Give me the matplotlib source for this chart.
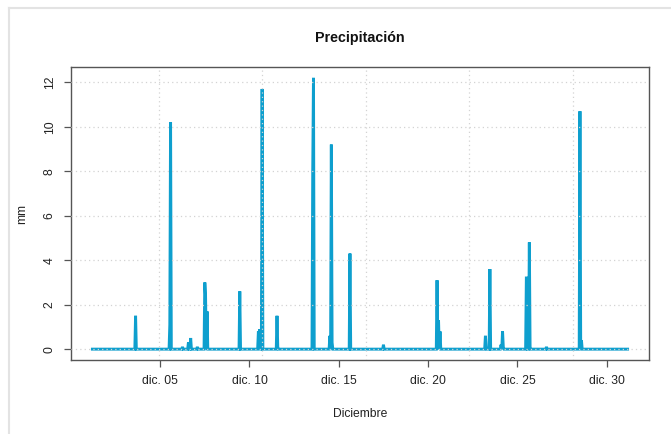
import numpy as np
import pandas as pd
import matplotlib
matplotlib.use("Agg")
import matplotlib.pyplot as plt
import matplotlib.dates as mdates
from matplotlib.lines import Line2D

plt.rcParams['font.family'] = ['Liberation Sans', 'DejaVu Sans']

# ---- data ----
start = "2023-12-01 05:00"
end = "2023-12-31 04:00"
event_times = [
    "2023-12-03 15:00",
    "2023-12-05 13:00", "2023-12-05 14:00",
    "2023-12-06 06:00", "2023-12-06 14:00", "2023-12-06 17:00",
    "2023-12-07 02:00", "2023-12-07 12:00", "2023-12-07 13:00", "2023-12-07 15:00",
    "2023-12-09 11:00",
    "2023-12-10 12:00", "2023-12-10 14:00", "2023-12-10 17:00",
    "2023-12-11 13:00", "2023-12-11 14:00",
    "2023-12-13 13:00", "2023-12-13 14:00",
    "2023-12-14 12:00", "2023-12-14 14:00", "2023-12-14 15:00",
    "2023-12-15 15:00",
    "2023-12-17 12:00",
    "2023-12-20 12:00", "2023-12-20 14:00", "2023-12-20 16:00",
    "2023-12-23 05:00", "2023-12-23 06:00", "2023-12-23 11:00",
    "2023-12-24 02:00", "2023-12-24 04:00", "2023-12-24 05:00",
    "2023-12-25 12:00", "2023-12-25 13:00", "2023-12-25 16:00", "2023-12-25 17:00",
    "2023-12-26 15:00",
    "2023-12-28 12:00", "2023-12-28 14:00",
]
event_mm = [
    1.5,
    1.1, 10.2,
    0.1, 0.3, 0.5,
    0.1, 3.0, 2.4, 1.7,
    2.6,
    0.8, 0.9, 11.7,
    1.5, 0.1,
    8.0, 12.2,
    0.6, 9.2, 0.3,
    4.3,
    0.2,
    3.1, 1.3, 0.8,
    0.6, 0.1, 3.6,
    0.2, 0.8, 0.1,
    3.2, 3.2, 4.8, 0.1,
    0.1,
    10.7, 0.4,
]
tick_dates = ["2023-12-05", "2023-12-10", "2023-12-15", "2023-12-20", "2023-12-25", "2023-12-30"]
tick_labels = ["dic. 05", "dic. 10", "dic. 15", "dic. 20", "dic. 25", "dic. 30"]
y_ticks = [0, 2, 4, 6, 8, 10, 12]

series = pd.Series(0.0, index=pd.date_range(start, end, freq="h"))
series.loc[pd.to_datetime(event_times)] = event_mm

# ---- figure ----
W, H = 671, 434
fig = plt.figure(figsize=(W / 100, H / 100), dpi=100)
ax = fig.add_axes([71 / W, (H - 360) / H, 578 / W, 293 / H])

color = "#0E9FCE"
ax.plot(series.index, series.values, color=color, lw=2.1, solid_joinstyle="miter", zorder=2)

x0 = mdates.date2num(series.index[0])
x1 = mdates.date2num(series.index[-1])
xr = x1 - x0
ax.set_xlim(x0 - 0.04 * xr, x1 + 0.04 * xr)
ymax = series.max()
ax.set_ylim(-0.04 * ymax, ymax * 1.04)

# grid (R grid(): dotted lightgray)
grid_kw = dict(color="#D3D3D3", lw=0.9, ls=(0, (1, 2.5)), zorder=3)
for y in y_ticks:
    ax.axhline(y, **grid_kw)
g0 = mdates.date2num(pd.Timestamp("2023-12-01")) + 3.94
for k in range(5):
    ax.axvline(g0 + k * 500000 / 86400, **grid_kw)

ax.set_xticks(mdates.date2num(pd.to_datetime(tick_dates)))
ax.set_xticklabels(tick_labels)
ax.set_yticks(y_ticks)
ax.set_yticklabels([str(v) for v in y_ticks], rotation=90, va="center")

ax.tick_params(axis="both", length=5, width=0.9, color="#555555",
               labelsize=8.7, labelcolor="#222222")
ax.tick_params(axis="x", pad=6)
ax.tick_params(axis="y", pad=6)
for s in ax.spines.values():
    s.set_color("#555555")
    s.set_linewidth(1.0)

ax.set_title("Precipitación", fontsize=10.3, fontweight="bold", color="#111111", pad=18)
ax.set_xlabel("Diciembre", fontsize=8.7, color="#222222", labelpad=15)
ax.set_ylabel("mm", fontsize=8.7, color="#222222", labelpad=11)

# light screenshot frame
fig.add_artist(Line2D([9 / W, 9 / W], [0, 1 - 8 / H], transform=fig.transFigure, color="#E3E3E3", lw=1.5))
fig.add_artist(Line2D([9 / W, 1], [1 - 8 / H, 1 - 8 / H], transform=fig.transFigure, color="#E3E3E3", lw=1.5))

fig.savefig("out.png", dpi=100)
